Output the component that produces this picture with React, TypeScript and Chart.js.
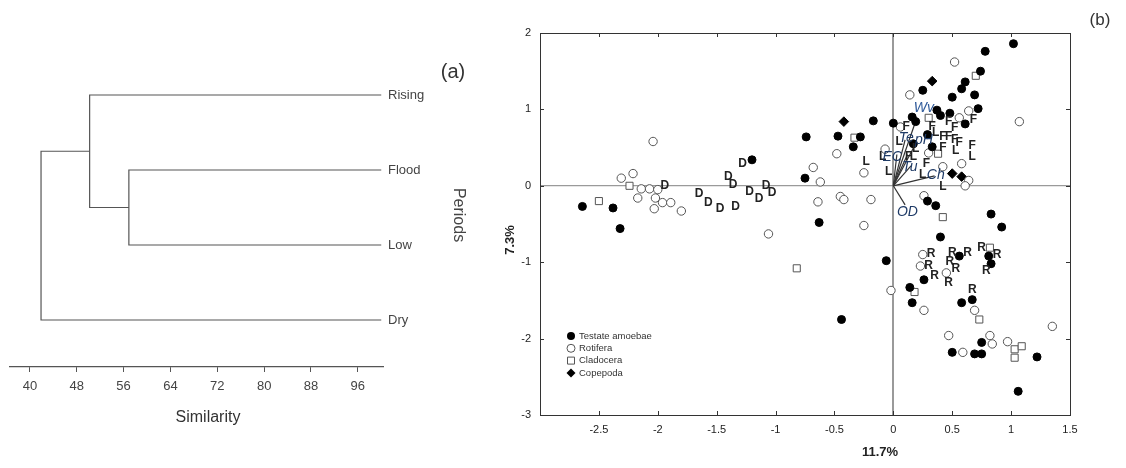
import React, { useEffect, useRef } from 'react';
import { Chart, registerables } from 'chart.js';

Chart.register(...registerables);

const FONT = '"Liberation Sans", Arial, Helvetica, sans-serif';

// ---------- Panel (a): dendrogram ----------
const periods = ['Rising', 'Flood', 'Low', 'Dry'];
const leafSimilarity = 100;
const floodLowSimilarity = 56.9;
const risingJoinSimilarity = 50.2;
const dryJoinSimilarity = 41.9;
const similarityTicks = [40, 48, 56, 64, 72, 80, 88, 96];

// ---------- Panel (b): ordination biplot ----------
const xTickValues = [-2.5, -2, -1.5, -1, -0.5, 0, 0.5, 1, 1.5];
const yTickValues = [-3, -2, -1, 0, 1, 2];

const testateAmoebae: number[][] = [
  [-2.64, -0.27], [-2.38, -0.29], [-2.32, -0.56], [-1.2, 0.34], [-0.74, 0.64],
  [-0.47, 0.65], [-0.28, 0.64], [-0.34, 0.51], [-0.17, 0.85], [0.0, 0.82],
  [-0.75, 0.1], [-0.63, -0.48], [1.02, 1.86], [0.78, 1.76], [0.74, 1.5],
  [0.61, 1.36], [0.58, 1.27], [0.5, 1.16], [0.69, 1.19], [0.25, 1.25],
  [0.72, 1.01], [0.48, 0.95], [0.37, 0.99], [0.16, 0.9], [0.19, 0.84],
  [0.4, 0.92], [0.61, 0.81], [0.29, 0.67], [0.17, 0.55], [0.33, 0.51],
  [0.29, -0.2], [0.36, -0.26], [0.83, -0.37], [0.92, -0.54], [0.4, -0.67],
  [-0.06, -0.98], [0.56, -0.92], [0.81, -0.92], [0.83, -1.02], [0.26, -1.23],
  [0.14, -1.33], [0.16, -1.53], [0.58, -1.53], [0.67, -1.49], [-0.44, -1.75],
  [0.75, -2.05], [0.5, -2.18], [0.69, -2.2], [0.75, -2.2], [1.22, -2.24],
  [1.06, -2.69],
];

const rotifera: number[][] = [
  [-2.04, 0.58], [-2.31, 0.1], [-2.21, 0.16], [-2.14, -0.04], [-2.07, -0.04],
  [-2.0, -0.05], [-2.17, -0.16], [-2.02, -0.16], [-1.96, -0.22], [-1.89, -0.22],
  [-2.03, -0.3], [-1.8, -0.33], [-1.06, -0.63], [-0.48, 0.42], [-0.68, 0.24],
  [-0.62, 0.05], [-0.64, -0.21], [-0.45, -0.14], [-0.42, -0.18], [-0.25, 0.17],
  [-0.19, -0.18], [-0.25, -0.52], [-0.07, 0.48], [0.52, 1.62], [0.14, 1.19],
  [0.64, 0.98], [0.56, 0.89], [1.07, 0.84], [0.06, 0.77], [0.3, 0.43],
  [0.58, 0.29], [0.42, 0.25], [0.64, 0.07], [0.61, 0.0], [0.26, -0.13],
  [0.25, -0.9], [0.23, -1.05], [0.45, -1.14], [-0.02, -1.37], [0.26, -1.63],
  [0.69, -1.63], [0.47, -1.96], [0.59, -2.18], [0.82, -1.96], [0.84, -2.07],
  [0.97, -2.04], [1.35, -1.84],
];

const cladocera: number[][] = [
  [-2.5, -0.2], [-2.24, 0.0], [-0.33, 0.63], [0.7, 1.44], [0.3, 0.89],
  [0.38, 0.42], [0.42, -0.41], [0.82, -0.81], [0.18, -1.39], [0.73, -1.75],
  [1.03, -2.14], [1.09, -2.1], [1.03, -2.25], [-0.82, -1.08],
];

const copepoda: number[][] = [
  [-0.42, 0.84], [0.33, 1.37], [0.5, 0.16], [0.58, 0.12],
];

const drySites: number[][] = [
  [-1.94, 0.0], [-1.65, -0.1], [-1.57, -0.22], [-1.47, -0.3], [-1.34, -0.27],
  [-1.4, 0.12], [-1.36, 0.01], [-1.28, 0.29], [-1.22, -0.08], [-1.14, -0.17],
  [-1.08, 0.0], [-1.03, -0.09],
];
const lowSites: number[][] = [
  [-0.23, 0.31], [-0.09, 0.38], [-0.04, 0.18], [0.05, 0.58], [0.19, 0.48],
  [0.17, 0.38], [0.36, 0.69], [0.53, 0.46], [0.67, 0.38], [0.25, 0.14],
  [0.42, -0.01],
];
const floodSites: number[][] = [
  [0.11, 0.77], [0.33, 0.77], [0.47, 0.84], [0.52, 0.76], [0.68, 0.86],
  [0.42, 0.64], [0.47, 0.64], [0.52, 0.6], [0.56, 0.56], [0.42, 0.5],
  [0.67, 0.52], [0.28, 0.29], [0.13, 0.38],
];
const risingSites: number[][] = [
  [0.32, -0.89], [0.5, -0.88], [0.63, -0.88], [0.75, -0.81], [0.88, -0.9],
  [0.3, -1.05], [0.48, -0.99], [0.53, -1.08], [0.35, -1.18], [0.47, -1.27],
  [0.79, -1.11], [0.67, -1.36],
];

const vectorNames = ['Wv', 'Te', 'pH', 'EC', '', 'Tu', 'Ch', 'OD'];
const vectorEnds: number[][] = [
  [0.2, 0.89], [0.1, 0.6], [0.2, 0.58], [0.03, 0.41], [0.12, 0.41],
  [0.15, 0.26], [0.35, 0.13], [0.1, -0.25],
];
const vectorLabelPos: number[][] = [
  [0.26, 1.02], [0.11, 0.63], [0.26, 0.6], [-0.01, 0.38], [0, 0],
  [0.14, 0.25], [0.36, 0.14], [0.12, -0.34],
];

const legendNames = ['Testate amoebae', 'Rotifera', 'Cladocera', 'Copepoda'];

const toXY = (arr: number[][]) => arr.map(([x, y]) => ({ x, y }));

function drawText(ctx: CanvasRenderingContext2D, text: string, x: number, y: number, font: string, color: string, rot = 0) {
  ctx.save();
  ctx.font = font;
  ctx.fillStyle = color;
  ctx.textAlign = 'center';
  ctx.textBaseline = 'middle';
  ctx.translate(x, y);
  if (rot) ctx.rotate(rot);
  ctx.fillText(text, 0, 0);
  ctx.restore();
}

function drawMarker(ctx: CanvasRenderingContext2D, kind: number, x: number, y: number) {
  ctx.save();
  ctx.lineWidth = 1;
  ctx.beginPath();
  if (kind === 0) {
    ctx.arc(x, y, 4, 0, Math.PI * 2);
    ctx.fillStyle = '#000';
    ctx.fill();
  } else if (kind === 1) {
    ctx.arc(x, y, 4, 0, Math.PI * 2);
    ctx.fillStyle = '#fff';
    ctx.fill();
    ctx.strokeStyle = '#555';
    ctx.stroke();
  } else if (kind === 2) {
    ctx.rect(x - 3.5, y - 3.5, 7, 7);
    ctx.fillStyle = '#fff';
    ctx.fill();
    ctx.strokeStyle = '#555';
    ctx.stroke();
  } else {
    ctx.moveTo(x, y - 4.5);
    ctx.lineTo(x + 4.5, y);
    ctx.lineTo(x, y + 4.5);
    ctx.lineTo(x - 4.5, y);
    ctx.closePath();
    ctx.fillStyle = '#000';
    ctx.fill();
  }
  ctx.restore();
}

export default function App() {
  const refA = useRef<HTMLCanvasElement>(null);
  const refB = useRef<HTMLCanvasElement>(null);

  useEffect(() => {
    // ----- dendrogram -----
    const yOf = (n: string) => periods.indexOf(n) + 1;
    const flY = (yOf('Flood') + yOf('Low')) / 2;
    const rY = (yOf('Rising') + flY) / 2;
    const seg = (x1: number, y1: number, h: number, x2: number, y2: number) => [
      { x: x1, y: y1 }, { x: h, y: y1 }, { x: h, y: y2 }, { x: x2, y: y2 },
    ];
    const dendroSegs = [
      seg(leafSimilarity, yOf('Flood'), floodLowSimilarity, leafSimilarity, yOf('Low')),
      seg(leafSimilarity, yOf('Rising'), risingJoinSimilarity, floodLowSimilarity, flY),
      seg(risingJoinSimilarity, rY, dryJoinSimilarity, leafSimilarity, yOf('Dry')),
    ];

    const textA = {
      id: 'textA',
      afterDraw(chart: any) {
        const ctx = chart.ctx;
        drawText(ctx, '(a)', 453, 72, `20px ${FONT}`, '#333');
        drawText(ctx, 'Periods', 458, 215, `16px ${FONT}`, '#444', Math.PI / 2);
        drawText(ctx, 'Similarity', 208, 418, `16px ${FONT}`, '#333');
      },
    };

    const chartA = new Chart(refA.current!, {
      type: 'scatter',
      data: {
        datasets: dendroSegs.map((d) => ({
          data: d,
          showLine: true,
          borderColor: '#555',
          borderWidth: 1.2,
          pointRadius: 0,
          tension: 0,
        })),
      },
      options: {
        animation: false,
        responsive: false,
        layout: { padding: { left: 10, top: 20, right: 0, bottom: 0 } },
        plugins: { legend: { display: false }, tooltip: { enabled: false } },
        scales: {
          x: {
            type: 'linear',
            position: 'bottom',
            min: 36.6,
            max: 100.3,
            afterBuildTicks: (s: any) => { s.ticks = similarityTicks.map((v) => ({ value: v })); },
            afterFit: (s: any) => { s.height = 101; },
            grid: { display: true, drawOnChartArea: false, drawTicks: true, tickLength: 5, tickColor: '#555', lineWidth: 1 },
            border: { display: true, color: '#555', width: 1.2 },
            ticks: { color: '#444', font: { family: FONT, size: 13 }, padding: 7, maxRotation: 0 },
          },
          y: {
            type: 'linear',
            position: 'right',
            reverse: true,
            min: 0,
            max: 4.627,
            afterBuildTicks: (s: any) => { s.ticks = periods.map((_, i) => ({ value: i + 1 })); },
            afterFit: (s: any) => { s.width = 97; },
            grid: { display: false, drawTicks: false, tickLength: 0 },
            border: { display: false },
            ticks: {
              color: '#444',
              font: { family: FONT, size: 13 },
              padding: 5,
              callback: (v: any) => periods[Math.round(Number(v)) - 1],
            },
          },
        },
      },
      plugins: [textA],
    } as any);

    // ----- biplot -----
    const boxAndTicks = {
      id: 'boxAndTicks',
      afterDatasetsDraw(chart: any) {
        const { ctx, chartArea: a, scales } = chart;
        const { x, y } = scales;
        ctx.save();
        ctx.strokeStyle = '#333';
        ctx.lineWidth = 1;
        ctx.strokeRect(Math.round(a.left) + 0.5, Math.round(a.top) + 0.5, Math.round(a.right - a.left), Math.round(a.bottom - a.top));
        ctx.beginPath();
        const L = 4;
        x.ticks.forEach((t: any) => {
          const px = Math.round(x.getPixelForValue(t.value)) + 0.5;
          if (px <= a.left + 1 || px >= a.right - 1) return;
          ctx.moveTo(px, a.top); ctx.lineTo(px, a.top + L);
          ctx.moveTo(px, a.bottom); ctx.lineTo(px, a.bottom - L);
        });
        y.ticks.forEach((t: any) => {
          const py = Math.round(y.getPixelForValue(t.value)) + 0.5;
          if (py <= a.top + 1 || py >= a.bottom - 1) return;
          ctx.moveTo(a.left, py); ctx.lineTo(a.left + L, py);
          ctx.moveTo(a.right, py); ctx.lineTo(a.right - L, py);
        });
        ctx.stroke();
        ctx.restore();

        // site labels
        const lab = (pts: number[][], t: string, font: string) =>
          pts.forEach(([vx, vy]) => drawText(ctx, t, x.getPixelForValue(vx), y.getPixelForValue(vy), font, '#222'));
        lab(drySites, 'D', `bold 12px ${FONT}`);
        lab(lowSites, 'L', `bold 12px ${FONT}`);
        lab(floodSites, 'F', `bold 12px ${FONT}`);
        lab(risingSites, 'R', `bold 12px ${FONT}`);

        // vector labels
        vectorNames.forEach((n, i) => {
          if (!n) return;
          const [vx, vy] = vectorLabelPos[i];
          drawText(ctx, n, x.getPixelForValue(vx), y.getPixelForValue(vy), `italic 14px ${FONT}`, n === 'Wv' ? '#2f5a9a' : '#1e3a66');
        });

        // legend
        legendNames.forEach((n, i) => {
          const ly = a.top + 303 + i * 12.3;
          drawMarker(ctx, i, a.left + 31, ly);
          ctx.save();
          ctx.font = `9.5px ${FONT}`;
          ctx.fillStyle = '#333';
          ctx.textAlign = 'left';
          ctx.textBaseline = 'middle';
          ctx.fillText(n, a.left + 39, ly);
          ctx.restore();
        });
      },
      afterDraw(chart: any) {
        const ctx = chart.ctx;
        drawText(ctx, '(b)', 620, 20, `17px ${FONT}`, '#333');
        drawText(ctx, '7.3%', 30, 240, `bold 13px ${FONT}`, '#222', -Math.PI / 2);
        drawText(ctx, '11.7%', 400, 452, `bold 13px ${FONT}`, '#222');
      },
    };

    const vectorSets = vectorEnds.map(([ex, ey]) => ({
      data: [{ x: 0, y: 0 }, { x: ex, y: ey }],
      showLine: true,
      borderColor: '#333',
      borderWidth: 1.2,
      pointRadius: 0,
      tension: 0,
    }));

    const chartB = new Chart(refB.current!, {
      type: 'scatter',
      data: {
        datasets: [
          { label: legendNames[0], data: toXY(testateAmoebae), pointStyle: 'circle', pointRadius: 4, backgroundColor: '#000', borderColor: '#000', borderWidth: 1 },
          { label: legendNames[1], data: toXY(rotifera), pointStyle: 'circle', pointRadius: 4.2, backgroundColor: '#fff', borderColor: '#555', borderWidth: 1 },
          { label: legendNames[2], data: toXY(cladocera), pointStyle: 'rect', pointRadius: 5, backgroundColor: '#fff', borderColor: '#555', borderWidth: 1 },
          { label: legendNames[3], data: toXY(copepoda), pointStyle: 'rectRot', pointRadius: 4.8, backgroundColor: '#000', borderColor: '#000', borderWidth: 1 },
          ...vectorSets,
        ],
      },
      options: {
        animation: false,
        responsive: false,
        layout: { padding: { left: 0, top: 33, right: 56, bottom: 0 } },
        plugins: { legend: { display: false }, tooltip: { enabled: false } },
        scales: {
          x: {
            type: 'linear',
            min: -3,
            max: 1.5,
            afterBuildTicks: (s: any) => { s.ticks = xTickValues.map((v) => ({ value: v })); },
            afterFit: (s: any) => { s.height = 53; },
            grid: {
              drawTicks: false,
              tickLength: 0,
              color: (c: any) => (c.tick && c.tick.value === 0 ? '#9a9a9a' : 'rgba(0,0,0,0)'),
              lineWidth: 2,
            },
            border: { display: false },
            ticks: { color: '#222', font: { family: FONT, size: 11 }, padding: 8, maxRotation: 0, callback: (v: any) => String(v) },
          },
          y: {
            type: 'linear',
            min: -3,
            max: 2,
            afterBuildTicks: (s: any) => { s.ticks = yTickValues.map((v) => ({ value: v })); },
            afterFit: (s: any) => { s.width = 60; },
            grid: {
              drawTicks: false,
              tickLength: 0,
              color: (c: any) => (c.tick && c.tick.value === 0 ? '#9a9a9a' : 'rgba(0,0,0,0)'),
              lineWidth: 1.2,
            },
            border: { display: false },
            ticks: { color: '#222', font: { family: FONT, size: 11 }, padding: 9, callback: (v: any) => String(v) },
          },
        },
      },
      plugins: [boxAndTicks],
    } as any);

    return () => {
      chartA.destroy();
      chartB.destroy();
    };
  }, []);

  return (
    <div style={{ position: 'fixed', left: 0, top: 0, width: 1126, height: 468, background: '#fff' }}>
      <canvas ref={refA} width={480} height={468} style={{ position: 'absolute', left: 0, top: 0, width: 480, height: 468 }} />
      <canvas ref={refB} width={646} height={468} style={{ position: 'absolute', left: 480, top: 0, width: 646, height: 468 }} />
    </div>
  );
}
